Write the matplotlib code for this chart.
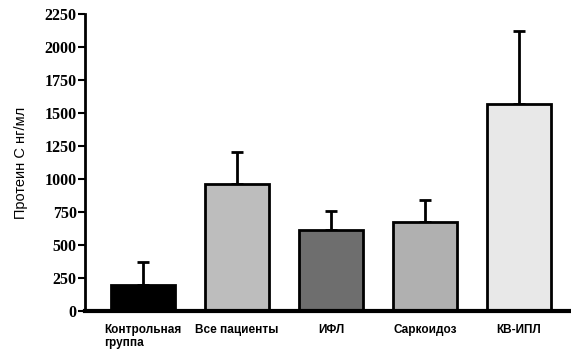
import numpy as np
import matplotlib.pyplot as plt

# group names and mean values (ng/ml) with upper error
groups = ['Контрольная\nгруппа', 'Все пациенты', 'ИФЛ', 'Саркоидоз', 'КВ-ИПЛ']
means = [195, 960, 615, 675, 1570]
errors = [180, 245, 140, 165, 550]
colors = ['#000000', '#bdbdbd', '#6e6e6e', '#b0b0b0', '#e8e8e8']
yticks = [0, 250, 500, 750, 1000, 1250, 1500, 1750, 2000, 2250]

fig = plt.figure(figsize=(5.71, 3.5), dpi=100)
ax = fig.add_axes([0.149, 0.111, 0.851, 0.849])

x = np.arange(len(groups))
ax.bar(x, means, width=0.68, color=colors, edgecolor='black', linewidth=2, zorder=2)
ax.errorbar(x, means, yerr=[np.zeros(len(errors)), errors], fmt='none',
            ecolor='black', elinewidth=2, capsize=4, capthick=2, zorder=1)

ax.set_xlim(-0.617, 4.553)
ax.set_ylim(0, 2250)
ax.set_yticks(yticks)
ax.set_yticklabels([str(v) for v in yticks], family='Liberation Serif',
                   fontweight='bold', fontsize=11.5)
ax.tick_params(axis='y', direction='out', length=5, width=1.5, pad=1)
ax.set_xticks(x)
ax.set_xticklabels(groups, family='Liberation Sans', fontweight='bold',
                   fontsize=8.5, multialignment='left')
ax.tick_params(axis='x', length=0, pad=9)

ax.spines['top'].set_visible(False)
ax.spines['right'].set_visible(False)
ax.spines['left'].set_linewidth(2)
ax.spines['bottom'].set_linewidth(3)

ax.set_ylabel('Протеин С нг/мл', family='Liberation Sans', fontsize=10.5, labelpad=12)

fig.savefig('out.png', dpi=100)
